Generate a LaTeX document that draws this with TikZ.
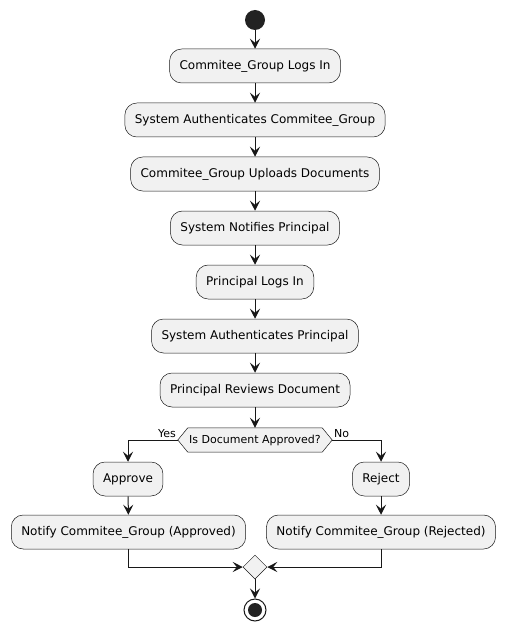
\documentclass[tikz,border=0pt]{standalone}
\usepackage{fontspec}
\setmainfont{DejaVu Sans}
\usetikzlibrary{arrows.meta,calc,shapes.geometric}
\definecolor{fillc}{HTML}{F1F1F1}
\definecolor{linec}{HTML}{181818}
\definecolor{dotc}{HTML}{222222}
\begin{document}
\begin{tikzpicture}[x=1pt,y=-1pt,
 act/.style={draw=linec, fill=fillc, rounded corners=12pt, line width=0.5pt, minimum height=34pt, inner xsep=10pt, inner ysep=0pt, font=\fontsize{12}{14}\selectfont},
 arr/.style={draw=linec, line width=1pt, -{Stealth[length=10pt,width=10pt,inset=4pt]}},
 lab/.style={font=\fontsize{11}{13}\selectfont, inner sep=0pt}]
\useasboundingbox (0,0) rectangle (506,631);
\node[circle, fill=dotc, minimum size=20pt, inner sep=0pt] (start) at (255,20) {};
\node[act] (b1) at (255,66) {Commitee\_Group Logs In};
\node[act] (b2) at (255,120) {System Authenticates Commitee\_Group};
\node[act] (b3) at (255,174) {Commitee\_Group Uploads Documents};
\node[act] (b4) at (255,228) {System Notifies Principal};
\node[act] (b5) at (255,282) {Principal Logs In};
\node[act] (b6) at (255,336) {System Authenticates Principal};
\node[act] (b7) at (255,390) {Principal Reviews Document};
\coordinate (dec) at (255,440);
\node[minimum width=134pt, minimum height=24pt, inner sep=0pt] (decbox) at (dec) {};
\coordinate (decL) at ($(decbox.west)+(-10,0)$);
\coordinate (decR) at ($(decbox.east)+(10,0)$);
\draw[draw=linec, fill=fillc, line width=0.5pt] (decL) -- (decbox.north west) -- (decbox.north east) -- (decR) -- (decbox.south east) -- (decbox.south west) -- cycle;
\node (dectext) at (dec) [font=\fontsize{11}{13}\selectfont] {Is Document Approved?};
\node[lab, anchor=base east] (yes) at (176,437) {Yes};
\node[lab, anchor=base west] (no) at (334,437) {No};
\node[act] (ap) at (128,479) {Approve};
\node[act] (rj) at (381,479) {Reject};
\node[act] (na) at (128.5,532) {Notify Commitee\_Group (Approved)};
\node[act] (nr) at (381,532) {Notify Commitee\_Group (Rejected)};
\node[diamond, aspect=1, draw=linec, fill=fillc, line width=0.5pt, minimum width=24pt, minimum height=24pt, inner sep=0pt] (mg) at (255,567) {};
\node[circle, draw=linec, line width=1pt, fill=white, minimum size=22pt, inner sep=0pt] (endo) at (255,610) {};
\node[circle, fill=dotc, minimum size=14pt, inner sep=0pt] (endi) at (255,610) {};
\draw[arr] (start) -- (b1);
\draw[arr] (b1) -- (b2);
\draw[arr] (b2) -- (b3);
\draw[arr] (b3) -- (b4);
\draw[arr] (b4) -- (b5);
\draw[arr] (b5) -- (b6);
\draw[arr] (b6) -- (b7);
\draw[arr] (b7) -- (decbox.north);
\draw[arr] (decL) -| (ap);
\draw[arr] (decR) -| (rj);
\draw[arr] (ap) -- (na);
\draw[arr] (rj) -- (nr);
\draw[arr] (na) |- (mg);
\draw[arr] (nr) |- (mg);
\draw[arr] (mg) -- (endo);
\end{tikzpicture}
\end{document}
